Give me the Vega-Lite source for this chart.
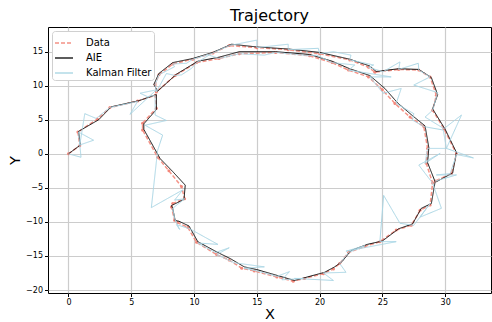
{
"$schema": "https://vega.github.io/schema/vega-lite/v6.json",
"width": 443, "height": 266,
"autosize": {"type": "none"},
"padding": {"left": 48, "top": 27, "right": 1, "bottom": 29},
"title": {"text": "Trajectory", "fontSize": 16, "fontWeight": "normal", "color": "#000", "offset": 3},
"datasets": {
"d": [
{"i":0,"x":0,"y":0},{"i":1,"x":0.9,"y":1.2},{"i":2,"x":0.75,"y":3.2},{"i":3,"x":2.3,"y":5.1},{"i":4,"x":3.3,"y":6.8},{"i":5,"x":5.5,"y":7.75},{"i":6,"x":6.9,"y":8.6},{"i":7,"x":7.0,"y":6.7},{"i":8,"x":5.9,"y":4.5},{"i":9,"x":5.9,"y":3.5},{"i":10,"x":7.1,"y":-0.5},{"i":11,"x":8.0,"y":-2.5},{"i":12,"x":9.0,"y":-4.8},{"i":13,"x":9.25,"y":-6.6},{"i":14,"x":8.3,"y":-7.3},{"i":15,"x":8.2,"y":-7.8},{"i":16,"x":8.45,"y":-9.75},{"i":17,"x":8.7,"y":-10.1},{"i":18,"x":9.5,"y":-10.8},{"i":19,"x":10.2,"y":-13.0},{"i":20,"x":11.8,"y":-14.8},{"i":21,"x":12.8,"y":-15.6},{"i":22,"x":13.8,"y":-16.8},{"i":23,"x":14.8,"y":-17.2},{"i":24,"x":16.6,"y":-18.1},{"i":25,"x":17.9,"y":-18.7},{"i":26,"x":18.8,"y":-18.3},{"i":27,"x":20.3,"y":-17.6},{"i":28,"x":21.1,"y":-16.9},{"i":29,"x":21.6,"y":-16.1},{"i":30,"x":22.3,"y":-14.5},{"i":31,"x":23.6,"y":-13.6},{"i":32,"x":24.8,"y":-12.9},{"i":33,"x":26.1,"y":-11.2},{"i":34,"x":27.3,"y":-10.5},{"i":35,"x":28.0,"y":-8.3},{"i":36,"x":28.8,"y":-7.5},{"i":37,"x":29.0,"y":-4.3},{"i":38,"x":28.5,"y":-1.4},{"i":39,"x":28.6,"y":0.8},{"i":40,"x":28.3,"y":4.0},{"i":41,"x":27.2,"y":5.4},{"i":42,"x":26.0,"y":7.4},{"i":43,"x":25.0,"y":9.4},{"i":44,"x":23.9,"y":11.3},{"i":45,"x":22.3,"y":12.3},{"i":46,"x":21.0,"y":13.4},{"i":47,"x":19.2,"y":14.4},{"i":48,"x":16.5,"y":14.9},{"i":49,"x":13.6,"y":14.7},{"i":50,"x":12.0,"y":14.0},{"i":51,"x":10.2,"y":13.4},{"i":52,"x":8.5,"y":11.5},{"i":53,"x":7.0,"y":9.1},{"i":54,"x":6.9,"y":10.1},{"i":55,"x":7.2,"y":11.6},{"i":56,"x":8.3,"y":13.2},{"i":57,"x":9.9,"y":13.9},{"i":58,"x":11.5,"y":14.8},{"i":59,"x":12.8,"y":15.9},{"i":60,"x":15.0,"y":15.6},{"i":61,"x":17.5,"y":15.3},{"i":62,"x":20.0,"y":14.7},{"i":63,"x":22.4,"y":13.8},{"i":64,"x":23.9,"y":12.7},{"i":65,"x":24.4,"y":12.0},{"i":66,"x":26.3,"y":12.4},{"i":67,"x":27.9,"y":12.3},{"i":68,"x":28.8,"y":11.3},{"i":69,"x":29.3,"y":8.6},{"i":70,"x":29.0,"y":6.4},{"i":71,"x":29.9,"y":3.7},{"i":72,"x":30.9,"y":0.0},{"i":73,"x":30.5,"y":-2.9},{"i":74,"x":29.2,"y":-4.0}
],
"a": [
{"i":0,"x":0,"y":0},{"i":1,"x":0.95,"y":1.3},{"i":2,"x":0.8,"y":3.3},{"i":3,"x":2.4,"y":5.0},{"i":4,"x":3.4,"y":6.9},{"i":5,"x":5.6,"y":7.8},{"i":6,"x":7.0,"y":8.7},{"i":7,"x":7.0,"y":6.5},{"i":8,"x":6.0,"y":4.4},{"i":9,"x":6.0,"y":3.6},{"i":10,"x":7.3,"y":-0.7},{"i":11,"x":8.3,"y":-2.6},{"i":12,"x":9.3,"y":-4.6},{"i":13,"x":9.2,"y":-6.7},{"i":14,"x":8.2,"y":-7.6},{"i":15,"x":8.3,"y":-8.0},{"i":16,"x":8.5,"y":-9.8},{"i":17,"x":8.8,"y":-9.9},{"i":18,"x":9.6,"y":-10.6},{"i":19,"x":10.3,"y":-12.9},{"i":20,"x":11.9,"y":-14.5},{"i":21,"x":12.9,"y":-15.4},{"i":22,"x":14.0,"y":-16.6},{"i":23,"x":15.0,"y":-17.0},{"i":24,"x":16.7,"y":-17.9},{"i":25,"x":18.0,"y":-18.6},{"i":26,"x":19.0,"y":-18.1},{"i":27,"x":20.4,"y":-17.4},{"i":28,"x":21.2,"y":-16.6},{"i":29,"x":21.8,"y":-15.8},{"i":30,"x":22.5,"y":-14.2},{"i":31,"x":23.8,"y":-13.3},{"i":32,"x":25.0,"y":-12.8},{"i":33,"x":26.3,"y":-11.0},{"i":34,"x":27.4,"y":-10.3},{"i":35,"x":28.1,"y":-8.0},{"i":36,"x":28.9,"y":-7.3},{"i":37,"x":29.2,"y":-4.1},{"i":38,"x":28.6,"y":-1.3},{"i":39,"x":28.7,"y":0.9},{"i":40,"x":28.4,"y":4.1},{"i":41,"x":27.4,"y":5.6},{"i":42,"x":26.2,"y":7.5},{"i":43,"x":25.2,"y":9.6},{"i":44,"x":24.0,"y":11.5},{"i":45,"x":22.4,"y":12.5},{"i":46,"x":21.0,"y":13.6},{"i":47,"x":19.2,"y":14.6},{"i":48,"x":16.5,"y":15.0},{"i":49,"x":13.6,"y":15.0},{"i":50,"x":12.0,"y":14.2},{"i":51,"x":10.3,"y":13.6},{"i":52,"x":8.6,"y":11.7},{"i":53,"x":7.1,"y":9.2},{"i":54,"x":6.8,"y":10.2},{"i":55,"x":7.2,"y":11.8},{"i":56,"x":8.3,"y":13.4},{"i":57,"x":9.9,"y":14.0},{"i":58,"x":11.5,"y":14.9},{"i":59,"x":13.0,"y":16.1},{"i":60,"x":15.0,"y":15.7},{"i":61,"x":17.5,"y":15.4},{"i":62,"x":20.0,"y":14.9},{"i":63,"x":22.4,"y":13.9},{"i":64,"x":24.0,"y":12.9},{"i":65,"x":24.5,"y":12.1},{"i":66,"x":26.3,"y":12.5},{"i":67,"x":27.9,"y":12.4},{"i":68,"x":28.9,"y":11.2},{"i":69,"x":29.4,"y":8.7},{"i":70,"x":29.0,"y":6.6},{"i":71,"x":30.0,"y":3.6},{"i":72,"x":30.9,"y":0.2},{"i":73,"x":30.6,"y":-2.8},{"i":74,"x":29.3,"y":-4.1}
],
"k": [
{"i":0,"x":0,"y":0},{"i":1,"x":1.0,"y":-0.5},{"i":2,"x":0.8,"y":3.2},{"i":3,"x":2.0,"y":2.0},{"i":4,"x":0.9,"y":1.3},{"i":5,"x":1.3,"y":5.9},{"i":6,"x":2.2,"y":5.2},{"i":7,"x":3.3,"y":6.8},{"i":8,"x":5.5,"y":7.7},{"i":9,"x":4.9,"y":5.8},{"i":10,"x":7.0,"y":9.4},{"i":11,"x":5.7,"y":8.9},{"i":12,"x":6.3,"y":8.4},{"i":13,"x":6.9,"y":8.6},{"i":14,"x":6.9,"y":5.7},{"i":15,"x":7.8,"y":4.9},{"i":16,"x":6.1,"y":4.2},{"i":17,"x":7.5,"y":2.75},{"i":18,"x":7.1,"y":0.5},{"i":19,"x":6.6,"y":-7.9},{"i":20,"x":9.1,"y":-5.3},{"i":21,"x":8.45,"y":-6.8},{"i":22,"x":9.25,"y":-6.6},{"i":23,"x":8.3,"y":-8.0},{"i":24,"x":8.45,"y":-9.5},{"i":25,"x":8.85,"y":-11.1},{"i":26,"x":8.6,"y":-10.4},{"i":27,"x":9.65,"y":-11.0},{"i":28,"x":11.9,"y":-13.3},{"i":29,"x":10.3,"y":-13.1},{"i":30,"x":11.7,"y":-14.5},{"i":31,"x":12.8,"y":-13.8},{"i":32,"x":11.8,"y":-14.8},{"i":33,"x":13.2,"y":-16.0},{"i":34,"x":15.6,"y":-16.6},{"i":35,"x":14.0,"y":-16.8},{"i":36,"x":15.0,"y":-17.2},{"i":37,"x":16.6,"y":-18.0},{"i":38,"x":17.6,"y":-17.3},{"i":39,"x":17.0,"y":-18.5},{"i":40,"x":18.7,"y":-18.3},{"i":41,"x":18.0,"y":-18.3},{"i":42,"x":21.1,"y":-18.6},{"i":43,"x":20.3,"y":-17.5},{"i":44,"x":22.1,"y":-17.4},{"i":45,"x":21.6,"y":-16.1},{"i":46,"x":22.3,"y":-14.5},{"i":47,"x":23.6,"y":-13.5},{"i":48,"x":22.1,"y":-14.3},{"i":49,"x":26.1,"y":-12.9},{"i":50,"x":24.8,"y":-12.9},{"i":51,"x":25.1,"y":-6.1},{"i":52,"x":26.4,"y":-10.2},{"i":53,"x":27.5,"y":-10.5},{"i":54,"x":28.8,"y":-7.3},{"i":55,"x":28.0,"y":-9.3},{"i":56,"x":29.7,"y":-8.0},{"i":57,"x":29.0,"y":-4.3},{"i":58,"x":27.9,"y":-1.65},{"i":59,"x":29.6,"y":0.06},{"i":60,"x":28.4,"y":-1.4},{"i":61,"x":28.6,"y":0.8},{"i":62,"x":30.1,"y":0.8},{"i":63,"x":29.85,"y":3.5},{"i":64,"x":28.3,"y":4.0},{"i":65,"x":27.4,"y":4.95},{"i":66,"x":27.5,"y":5.9},{"i":67,"x":26.1,"y":7.4},{"i":68,"x":26.5,"y":9.6},{"i":69,"x":25.06,"y":8.9},{"i":70,"x":24.0,"y":11.3},{"i":71,"x":25.7,"y":11.3},{"i":72,"x":22.3,"y":12.3},{"i":73,"x":22.8,"y":13.05},{"i":74,"x":21.0,"y":13.4},{"i":75,"x":19.75,"y":14.5},{"i":76,"x":19.2,"y":14.4},{"i":77,"x":16.5,"y":14.9},{"i":78,"x":15.6,"y":14.5},{"i":79,"x":13.6,"y":14.7},{"i":80,"x":12.0,"y":14.0},{"i":81,"x":11.2,"y":14.5},{"i":82,"x":10.2,"y":13.4},{"i":83,"x":9.8,"y":12.55},{"i":84,"x":9.0,"y":11.6},{"i":85,"x":8.5,"y":11.5},{"i":86,"x":7.8,"y":11.8},{"i":87,"x":7.0,"y":9.1},{"i":88,"x":6.9,"y":10.1},{"i":89,"x":7.2,"y":11.6},{"i":90,"x":8.45,"y":12.8},{"i":91,"x":8.3,"y":13.2},{"i":92,"x":9.4,"y":13.3},{"i":93,"x":9.9,"y":13.9},{"i":94,"x":11.5,"y":14.8},{"i":95,"x":12.0,"y":15.25},{"i":96,"x":12.8,"y":15.9},{"i":97,"x":15.0,"y":16.7},{"i":98,"x":15.0,"y":15.6},{"i":99,"x":17.5,"y":16.1},{"i":100,"x":17.5,"y":15.3},{"i":101,"x":19.9,"y":15.5},{"i":102,"x":20.0,"y":14.7},{"i":103,"x":21.1,"y":15.0},{"i":104,"x":22.5,"y":14.5},{"i":105,"x":22.4,"y":13.8},{"i":106,"x":24.3,"y":13.05},{"i":107,"x":23.9,"y":12.7},{"i":108,"x":25.06,"y":12.06},{"i":109,"x":26.4,"y":13.5},{"i":110,"x":26.3,"y":12.4},{"i":111,"x":27.86,"y":13.3},{"i":112,"x":27.9,"y":12.3},{"i":113,"x":28.8,"y":11.3},{"i":114,"x":27.5,"y":10.1},{"i":115,"x":29.4,"y":9.0},{"i":116,"x":29.0,"y":6.4},{"i":117,"x":28.4,"y":5.4},{"i":118,"x":29.9,"y":3.7},{"i":119,"x":31.3,"y":5.7},{"i":120,"x":30.1,"y":0.8},{"i":121,"x":32.25,"y":-0.6},{"i":122,"x":30.9,"y":-0.1},{"i":123,"x":30.4,"y":-2.9},{"i":124,"x":29.3,"y":-3.1},{"i":125,"x":30.9,"y":-3.1},{"i":126,"x":29.2,"y":-4.0}
]
},
"encoding": {
  "x": {"field": "x", "type": "quantitative", "scale": {"domain": [-1.63, 33.65], "nice": false, "zero": false}, "axis": {"title": "X", "values": [0,5,10,15,20,25,30]}},
  "y": {"field": "y", "type": "quantitative", "scale": {"domain": [-20.44, 18.63], "nice": false, "zero": false}, "axis": {"title": "Y", "values": [-20,-15,-10,-5,0,5,10,15]}},
  "order": {"field": "i", "type": "quantitative"}
},
"layer": [
  {"data": {"name": "d"}, "transform": [{"calculate": "'Data'", "as": "s"}],
   "mark": {"type": "line", "strokeWidth": 1.5, "opacity": 0.9},
   "encoding": {
     "color": {"field": "s", "type": "nominal", "scale": {"domain": ["Data","AIE","Kalman Filter"], "range": ["#f4877a","#111111","#a9d6e5"]}, "legend": {"title": null}},
     "strokeDash": {"field": "s", "type": "nominal", "scale": {"domain": ["Data","AIE","Kalman Filter"], "range": [[4,2],[1,0],[1,0]]}, "legend": {"title": null}}
   }},
  {"data": {"name": "d"}, "mark": {"type": "point", "filled": true, "size": 9, "color": "#f4877a", "opacity": 1}},
  {"data": {"name": "a"}, "transform": [{"calculate": "'AIE'", "as": "s"}],
   "mark": {"type": "line", "strokeWidth": 1},
   "encoding": {
     "color": {"field": "s", "type": "nominal", "scale": {"domain": ["Data","AIE","Kalman Filter"], "range": ["#f4877a","#111111","#a9d6e5"]}, "legend": {"title": null}},
     "strokeDash": {"field": "s", "type": "nominal", "scale": {"domain": ["Data","AIE","Kalman Filter"], "range": [[4,2],[1,0],[1,0]]}, "legend": {"title": null}}
   }},
  {"data": {"name": "k"}, "transform": [{"calculate": "'Kalman Filter'", "as": "s"}],
   "mark": {"type": "line", "strokeWidth": 1},
   "encoding": {
     "color": {"field": "s", "type": "nominal", "scale": {"domain": ["Data","AIE","Kalman Filter"], "range": ["#f4877a","#111111","#a9d6e5"]}, "legend": {"title": null}},
     "strokeDash": {"field": "s", "type": "nominal", "scale": {"domain": ["Data","AIE","Kalman Filter"], "range": [[4,2],[1,0],[1,0]]}, "legend": {"title": null}}
   }}
],
"config": {
  "font": "DejaVu Sans",
  "view": {"stroke": "#000", "strokeWidth": 1},
  "axis": {"domain": false, "grid": true, "gridColor": "#cccccc", "gridWidth": 1.2, "tickColor": "#000", "tickSize": 3.5, "labelFontSize": 8, "labelColor": "#000", "titleFontSize": 14.5, "titleFontWeight": "normal", "titleColor": "#000", "labelPadding": 2},
  "axisX": {"titleBaseline": "alphabetic", "titleY": 25.5},
  "axisY": {"titlePadding": 3},
  "legend": {"orient": "top-left", "offset": 4, "padding": 2, "fillColor": "#ffffff", "strokeColor": "#d0d0d0", "cornerRadius": 3, "symbolType": "stroke", "symbolSize": 324, "symbolStrokeWidth": 1.5, "labelFontSize": 10, "labelColor": "#000", "rowPadding": -4, "labelOffset": 12}
}
}
